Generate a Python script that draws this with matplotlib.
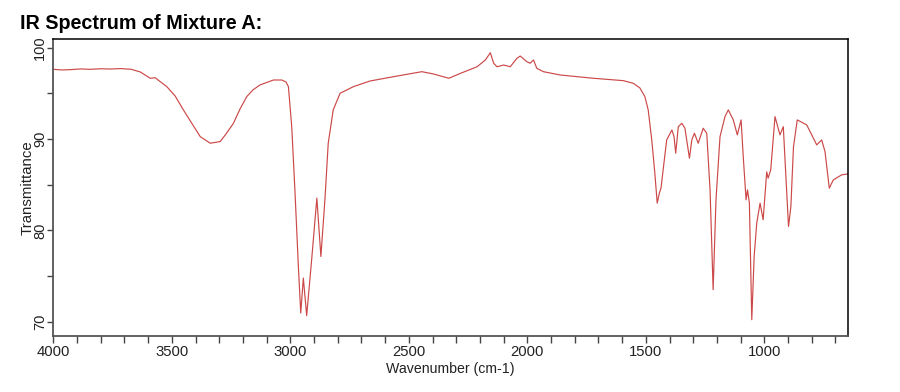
import matplotlib
matplotlib.use("Agg")
import matplotlib.pyplot as plt
from matplotlib.ticker import MultipleLocator, FuncFormatter
from matplotlib.patches import Rectangle

plt.rcParams['font.family'] = ['Liberation Sans', 'DejaVu Sans']

# Wavenumber (cm-1) and transmittance (%)
wavenumber = [4000, 3965, 3929, 3885, 3845, 3800, 3760, 3715, 3671, 3633, 3591, 3570, 3558,
              3521, 3486, 3451, 3414, 3380, 3338, 3296, 3271, 3240, 3212, 3184, 3158,
              3128, 3071, 3036, 3018, 3008, 2994, 2980, 2966, 2956, 2945, 2931, 2910,
              2888, 2871, 2854, 2840, 2819, 2790, 2734, 2664, 2565, 2445, 2396, 2331,
              2282, 2212, 2177, 2156, 2142, 2128, 2100, 2072, 2044, 2030, 2002, 1988,
              1974, 1960, 1932, 1862, 1721, 1595, 1553, 1525, 1504, 1490, 1475, 1462,
              1452, 1443, 1436, 1427, 1412, 1390, 1381, 1374, 1363, 1348, 1335, 1316,
              1306, 1295, 1279, 1258, 1243, 1229, 1216, 1204, 1187, 1166, 1152, 1131,
              1114, 1098, 1089, 1077, 1071, 1063, 1053, 1043, 1032, 1018, 1005, 990,
              984, 973, 955, 934, 920, 898, 888, 877, 861, 821, 779, 758, 744, 726,
              709, 674, 647]
transmittance = [97.62, 97.55, 97.58, 97.66, 97.62, 97.68, 97.65, 97.70, 97.62, 97.33, 96.64, 96.70, 96.45,
                 95.72, 94.71, 93.18, 91.65, 90.26, 89.54, 89.72, 90.56, 91.72, 93.29, 94.63, 95.36,
                 95.91, 96.45, 96.45, 96.23, 95.72, 91.35, 84.08, 76.07, 70.98, 74.80, 70.69, 76.80,
                 83.54, 77.16, 83.35, 89.54, 93.18, 95.00, 95.72, 96.34, 96.81, 97.36, 97.11, 96.64,
                 97.18, 97.90, 98.64, 99.43, 98.28, 97.90, 98.09, 97.90, 98.82, 99.07, 98.45, 98.28,
                 98.64, 97.73, 97.36, 97.00, 96.64, 96.38, 96.09, 95.58, 94.63, 93.18, 89.90, 86.27,
                 82.99, 84.08, 84.63, 86.63, 89.90, 90.99, 90.26, 88.45, 91.35, 91.72, 91.18, 87.90,
                 89.90, 90.63, 89.54, 91.18, 90.63, 84.44, 73.53, 83.35, 90.26, 92.45, 93.18, 92.09,
                 90.45, 92.09, 88.08, 83.35, 84.44, 82.99, 70.25, 77.16, 80.81, 82.99, 81.17, 86.41,
                 85.72, 86.63, 92.45, 90.45, 91.35, 80.44, 82.62, 89.17, 92.09, 91.54, 89.36, 89.90,
                 88.62, 84.63, 85.53, 86.08, 86.19]

title_text = "IR Spectrum of Mixture A:"
x_label = "Wavenumber (cm-1)"
y_label = "Transmittance"

W, H = 900, 392
fig = plt.figure(figsize=(W / 100, H / 100), dpi=100)
ax = fig.add_axes([53.3 / W, 1 - 335.7 / H, (848 - 53.3) / W, (335.7 - 39.3) / H])

ax.plot(wavenumber, transmittance, color='#cc4848', lw=0.85)
ax.set_xlim(4000, 647)
ax.set_ylim(68.5, 100.9)

ax.xaxis.set_major_locator(MultipleLocator(500))
ax.xaxis.set_minor_locator(MultipleLocator(100))
ax.xaxis.set_major_formatter(FuncFormatter(lambda v, p: f"{int(round(v))}"))
ax.yaxis.set_major_locator(MultipleLocator(10))
ax.yaxis.set_minor_locator(MultipleLocator(5))
ax.yaxis.set_major_formatter(FuncFormatter(lambda v, p: f"{int(round(v))}"))

ax.tick_params(axis='x', which='both', direction='out', length=5, width=1, color='#444',
               labelsize=10.7, labelcolor='#222', pad=2)
ax.tick_params(axis='y', which='both', direction='out', length=4.5, width=1, color='#444',
               labelsize=10.5, labelcolor='#222', pad=0)

for s in ['top', 'right']:
    ax.spines[s].set_color('black')
    ax.spines[s].set_linewidth(1.1)
for s in ['bottom', 'left']:
    ax.spines[s].set_color('#555')
    ax.spines[s].set_linewidth(1.3)

ax.set_xlabel(x_label, fontsize=10.2, color='#222', labelpad=1.5)
ax.set_ylabel(y_label, fontsize=10.8, color='#222')
ax.yaxis.set_label_coords((35 - 53.3) / 795, 0.5)

fig.text(20 / W, 1 - 29 / H, title_text, fontsize=14.2, fontweight='bold', va='baseline', ha='left')

fig.canvas.draw()
clip = Rectangle((0, 0), 1, 1 - 38.5 / H, transform=fig.transFigure, visible=False)
fig.add_artist(clip)
for t in ax.yaxis.get_major_ticks():
    lab = t.label1
    lab.set_rotation(90)
    lab.set_va('center')
    lab.set_clip_on(True)
    lab.set_clip_path(clip)

fig.savefig("out.png", dpi=100)
